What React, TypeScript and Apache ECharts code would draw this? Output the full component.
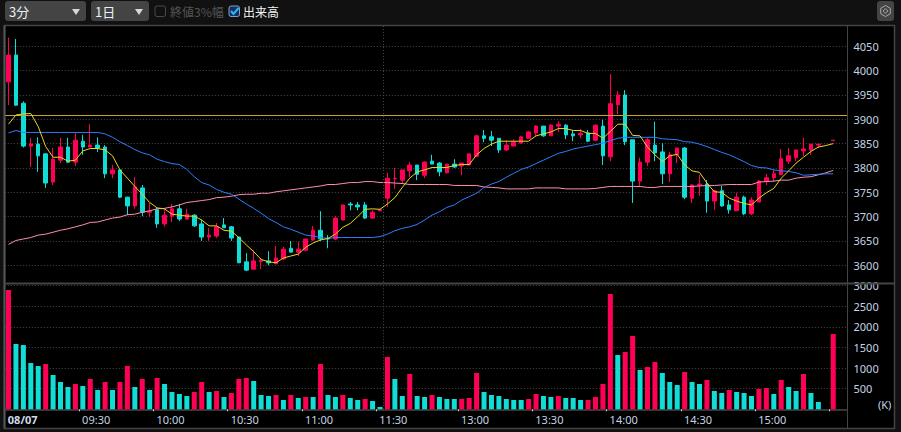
import React, { useEffect, useRef } from "react";
import * as echarts from "echarts";

// [open, close, low, high] per 3-minute bar
const candles: ([number, number, number, number] | null)[] = [
  [3977,4032,3929,4068],[4032,3929,3928,4065],[3933,3845,3842,3937],[3845,3849,3802,3862],[3849,3825,3792,3863],
  [3829,3769,3759,3830],[3771,3818,3765,3841],[3816,3843,3810,3862],[3843,3812,3810,3862],[3812,3857,3804,3872],
  [3855,3843,3827,3868],[3843,3847,3843,3890],[3847,3841,3833,3863],[3843,3788,3779,3847],[3788,3796,3779,3806],
  [3796,3740,3738,3796],[3740,3722,3703,3741],[3722,3761,3716,3781],[3759,3709,3701,3765],[3709,3711,3699,3728],
  [3714,3685,3677,3718],[3685,3703,3679,3716],[3701,3716,3689,3726],[3716,3695,3691,3726],[3695,3705,3693,3716],
  [3703,3681,3679,3705],[3685,3658,3650,3693],[3658,3662,3650,3677],[3660,3679,3656,3687],[3683,3677,3677,3697],
  [3679,3656,3650,3681],[3658,3605,3605,3658],[3607,3590,3588,3625],[3592,3609,3592,3631],[3608,3610,3592,3615],
  [3609,3605,3600,3629],[3603,3615,3603,3640],[3613,3633,3611,3638],[3635,3627,3627,3650],[3627,3633,3619,3648],
  [3631,3654,3629,3654],[3652,3672,3650,3681],[3672,3654,3650,3711],[3656,3654,3635,3662],[3654,3697,3652,3701],
  [3693,3724,3693,3724],[3726,3724,3713,3730],[3724,3720,3713,3730],[3724,3697,3695,3730],[3697,3709,3695,3713],
  [3712,3714,3711,3716],[3738,3779,3720,3790],[3778,3779,3757,3800],[3775,3796,3767,3796],[3794,3806,3781,3812],
  [3806,3787,3775,3806],[3785,3812,3779,3814],[3814,3808,3808,3827],[3810,3792,3783,3812],[3790,3808,3790,3808],
  [3808,3802,3800,3818],[3804,3810,3785,3810],[3806,3829,3806,3829],[3824,3866,3824,3868],[3866,3861,3853,3878],
  [3864,3857,3845,3876],[3861,3837,3831,3861],[3837,3847,3835,3857],[3845,3853,3845,3859],[3851,3864,3851,3866],
  [3861,3874,3861,3876],[3872,3886,3866,3888],[3886,3866,3864,3886],[3866,3888,3866,3890],[3886,3890,3874,3896],
  [3888,3868,3859,3890],[3870,3866,3855,3878],[3868,3871,3861,3880],[3872,3855,3853,3878],[3857,3888,3855,3890],
  [3886,3825,3806,3899],[3823,3932,3814,3993],[3930,3950,3911,3958],[3950,3854,3847,3960],[3858,3773,3728,3858],
  [3773,3812,3761,3821],[3812,3858,3804,3862],[3847,3831,3814,3895],[3833,3788,3767,3851],[3788,3827,3771,3833],
  [3827,3841,3810,3841],[3841,3740,3736,3843],[3738,3765,3728,3767],[3765,3767,3743,3786],[3767,3732,3708,3775],
  [3732,3753,3714,3755],[3753,3722,3720,3763],[3724,3714,3706,3734],[3712,3740,3712,3749],[3740,3706,3703,3743],
  [3706,3734,3703,3740],[3730,3773,3730,3775],[3773,3780,3765,3788],[3780,3788,3771,3796],[3786,3819,3786,3839],
  [3814,3825,3808,3841],[3821,3837,3814,3837],[3835,3839,3825,3862],[3837,3849,3827,3849],[3847,3849,3841,3849],
  null,[3856,3857,3856,3857],
];

const maShort = [
  3890,3909,3911,3912,3885,3844,3822,3822,3814,3816,3835,3840,3840,3837,3825,3796,3779,3762,3746,3729,
  3718,3716,3705,3703,3701,3701,3693,3681,3681,3672,3670,3657,3642,3628,3612,3607,3605,3615,3619,3623,
  3637,3646,3652,3655,3664,3678,3686,3700,3715,3716,3715,3726,3739,3760,3779,3792,3796,3801,3801,3801,
  3805,3807,3807,3827,3840,3849,3855,3855,3855,3855,3855,3866,3870,3874,3881,3881,3877,3877,3871,3871,
  3861,3875,3890,3890,3867,3866,3843,3827,3813,3825,3828,3806,3794,3791,3769,3751,3750,3738,3732,3727,
  3724,3738,3749,3758,3779,3794,3810,3822,3834,3843,3846,3850,
];

const maMid = [
  3872,3877,3873,3873,3873,3873,3873,3873,3873,3873,3873,3873,3873,3870,3863,3854,3846,3838,3831,3827,
  3818,3813,3809,3807,3797,3782,3770,3765,3756,3750,3746,3736,3726,3717,3707,3696,3688,3679,3674,3668,
  3662,3660,3657,3655,3657,3657,3657,3657,3657,3657,3659,3664,3671,3676,3679,3684,3693,3703,3710,3719,
  3724,3734,3741,3748,3760,3767,3772,3781,3789,3797,3802,3809,3816,3823,3830,3834,3839,3842,3845,3848,
  3851,3856,3861,3863,3863,3863,3863,3863,3860,3859,3858,3854,3853,3849,3844,3838,3832,3827,3820,3813,
  3805,3801,3800,3796,3794,3793,3790,3785,3786,3787,3788,3788,
];

const maLong = [
  3643,3651,3654,3657,3662,3664,3668,3672,3675,3679,3683,3688,3689,3693,3697,3699,3704,3705,3709,3712,
  3716,3717,3720,3724,3729,3731,3733,3735,3739,3740,3742,3745,3746,3746,3748,3748,3751,3753,3755,3757,
  3759,3761,3763,3766,3766,3768,3770,3770,3772,3772,3770,3770,3769,3768,3766,3766,3766,3766,3766,3766,
  3764,3764,3764,3764,3761,3760,3759,3757,3757,3757,3757,3759,3759,3759,3759,3757,3757,3757,3757,3758,
  3760,3762,3762,3762,3762,3762,3760,3760,3762,3762,3762,3762,3762,3763,3764,3764,3765,3766,3766,3766,
  3766,3771,3772,3773,3775,3775,3779,3781,3782,3786,3790,3795,
];

const volumes = [
  2895,1585,1560,1124,1051,1100,832,662,541,614,565,735,468,662,468,662,1051,541,735,468,
  760,614,420,371,323,420,662,420,444,298,396,735,760,687,347,323,347,226,347,274,
  298,298,1100,347,298,347,274,226,250,201,56,1269,735,323,857,323,298,347,298,250,
  250,250,274,881,420,347,323,250,226,226,250,371,323,298,323,274,274,226,226,298,
  614,2798,1318,1391,1779,954,1026,1148,881,662,590,905,662,614,711,444,396,468,420,396,
  323,492,517,371,711,541,444,857,396,178,0,1827,
];

// one letter per bar: r = red, t = teal, - = no bar
const volumeColours = [
  "rttttrtttr", "trtrtrrtrt", "rttttrrtrt", "rrrtttrtrt",
  "rtrttrttrt", "trttrttrtt", "trrrtttttt", "rrttrtttrr",
  "rrtrrtrrtt", "trttrttrtt", "trrtrttrtt", "-r",
].join("");

const priceMin = 3550;
const priceMax = 4100;
const priceInterval = 50;
const resistance = 3908;

const dateLabels: Record<string, string> = {
  "-0.5": "08/07", "9.5": "09:30", "19.5": "10:00", "29.5": "10:30", "39.5": "11:00", "49.5": "11:30",
  "60.5": "13:00", "70.5": "13:30", "80.5": "14:00", "90.5": "14:30", "100.5": "15:00",
};
const tickPositions = [9.5, 19.5, 29.5, 39.5, 49.5, 60.5, 70.5, 80.5, 90.5, 100.5, 110.5];
const sessionBreak = 50.5;

const RED = "#ff0055";
const TEAL = "#12dcd6";
const LABEL = "#c4d4e4";
const LINE = "#444444";
const FONT = "'Noto Sans', sans-serif";
const CJK = "'Noto Sans CJK JP', sans-serif";

const PLOT_LEFT = 4.8;
const PLOT_WIDTH = 842.7;
const X_MIN = -0.5;
const X_MAX = 112.92;

const gear = (cx: number, cy: number, r: number) => {
  const pts: number[][] = [];
  for (let i = 0; i < 6; i++) {
    const a = (Math.PI / 3) * i + Math.PI / 6;
    pts.push([cx + r * Math.cos(a), cy + r * Math.sin(a)]);
  }
  return pts;
};

export default function App() {
  const ref = useRef<HTMLDivElement>(null);
  useEffect(() => {
    document.body.style.margin = "0";
    document.body.style.background = "#111";
    const chart = echarts.init(ref.current!, undefined, { renderer: "svg" });

    const candleData = candles
      .map((c, i) => (c ? [i, c[0], c[1], c[2], c[3]] : null))
      .filter(Boolean);
    const volData = volumes
      .map((v, i) => ({
        value: [i, v],
        itemStyle: { color: volumeColours[i] === "r" ? RED : TEAL },
      }))
      .filter((d) => d.value[1] > 0);

    const seq = (arr: number[]) => arr.map((v, i) => [i, v]);
    const lineSeries = (name: string, arr: number[], color: string, z: number) => ({
      name,
      type: "line",
      xAxisIndex: 0,
      yAxisIndex: 0,
      data: seq(arr),
      showSymbol: false,
      silent: true,
      z,
      lineStyle: { color, width: 1 },
    });

    const valueAxisCommon = {
      position: "right",
      axisLine: { show: false },
      axisTick: { show: false },
      axisLabel: {
        color: LABEL,
        fontFamily: FONT,
        fontSize: 11,
        margin: 6,
        padding: [2, 0, 0, 0],
        showMinLabel: false,
        formatter: (v: number) => String(v),
      },
      splitLine: {
        show: true,
        lineStyle: { color: "#4a4a4a", type: [1, 2], width: 1 },
      },
    };

    chart.setOption({
      animation: false,
      backgroundColor: "#111111",
      grid: [
        { left: PLOT_LEFT, width: PLOT_WIDTH, top: 22, height: 267.6 },
        { left: PLOT_LEFT, width: PLOT_WIDTH, top: 285.7, height: 123.6 },
      ],
      xAxis: [
        {
          type: "value",
          gridIndex: 0,
          min: X_MIN,
          max: X_MAX,
          axisLine: { show: false },
          axisTick: { show: false },
          axisLabel: { show: false },
          splitLine: { show: false },
        },
        {
          type: "value",
          gridIndex: 1,
          min: X_MIN,
          max: X_MAX,
          axisLine: { show: true, onZero: false, lineStyle: { color: LINE, width: 1.5 } },
          axisTick: {
            show: true,
            customValues: tickPositions,
            length: 2,
            lineStyle: { color: "#d0d0d0", width: 1 },
          },
          axisLabel: {
            show: true,
            customValues: Object.keys(dateLabels).map(Number),
            color: LABEL,
            fontFamily: FONT,
            fontSize: 11,
            margin: 5,
            align: "left",
            padding: [0, 0, 0, 3],
            formatter: (v: number) => {
              const t = dateLabels[String(v)] ?? "";
              return v < 0 ? `{d|${t}}` : t;
            },
            rich: {
              d: { fontWeight: "bold", fontSize: 11, color: "#d0dcea", fontFamily: FONT },
            },
          },
          splitLine: { show: false },
        },
      ],
      yAxis: [
        {
          ...valueAxisCommon,
          type: "value",
          gridIndex: 0,
          min: priceMin,
          max: priceMax,
          interval: priceInterval,
          axisLabel: { ...valueAxisCommon.axisLabel, showMaxLabel: false },
          splitLine: { ...valueAxisCommon.splitLine, showMinLine: false, showMaxLine: false },
        },
        {
          ...valueAxisCommon,
          type: "value",
          gridIndex: 1,
          min: 0,
          max: 3000,
          interval: 500,
        },
      ],
      series: [
        {
          name: "price",
          type: "candlestick",
          xAxisIndex: 0,
          yAxisIndex: 0,
          data: candleData,
          encode: { x: 0, y: [1, 2, 3, 4] },
          barWidth: 4,
          silent: true,
          z: 2,
          itemStyle: {
            color: RED,
            color0: TEAL,
            borderColor: RED,
            borderColor0: TEAL,
            borderWidth: 1,
          },
          markLine: {
            silent: true,
            symbol: "none",
            label: { show: false },
            data: [
              [
                { coord: [X_MIN, resistance], lineStyle: { color: "#c9a227", width: 1, type: "solid" } },
                { coord: [X_MAX, resistance] },
              ],
              [
                { coord: [sessionBreak, 4092], lineStyle: { color: "#4a4a4a", width: 1, type: [1, 2] } },
                { coord: [sessionBreak, 3564] },
              ],
            ],
          },
        },
        lineSeries("MA long", maLong, "#ff8fab", 3),
        lineSeries("MA mid", maMid, "#2f7dff", 4),
        lineSeries("MA short", maShort, "#e8d820", 5),
        {
          name: "volume",
          type: "bar",
          xAxisIndex: 1,
          yAxisIndex: 1,
          data: volData,
          barWidth: 5,
          silent: true,
          markLine: {
            silent: true,
            symbol: "none",
            label: { show: false },
            lineStyle: { color: "#4a4a4a", width: 1, type: [1, 2] },
            data: [{ xAxis: sessionBreak }],
          },
        },
      ],
      graphic: [
        // plot panel
        { type: "rect", z: -10, silent: true, shape: { x: 4.5, y: 25.5, width: 890, height: 403 }, style: { fill: "#000", stroke: LINE, lineWidth: 1.5 } },
        { type: "line", z: 10, silent: true, shape: { x1: 4.5, y1: 25.5, x2: 4.5, y2: 428.5 }, style: { stroke: "#555", lineWidth: 2 } },
        { type: "line", z: 10, silent: true, shape: { x1: 4.5, y1: 283.5, x2: 894.5, y2: 283.5 }, style: { stroke: LINE, lineWidth: 2 } },
        { type: "line", z: 10, silent: true, shape: { x1: 847.5, y1: 25.5, x2: 847.5, y2: 428.5 }, style: { stroke: LINE, lineWidth: 1 } },
        // period selector
        { type: "rect", silent: true, shape: { x: 5, y: 1, width: 81, height: 20, r: 3 }, style: { fill: "#444" } },
        { type: "text", silent: true, x: 9, y: 11, style: { text: "3分", fill: "#e8f0f8", font: `13px ${CJK}`, verticalAlign: "middle" } },
        { type: "polygon", silent: true, shape: { points: [[72, 9], [80, 9], [76, 15]] }, style: { fill: "#d8d8d8" } },
        // range selector
        { type: "rect", silent: true, shape: { x: 91, y: 1, width: 58, height: 20, r: 3 }, style: { fill: "#444" } },
        { type: "text", silent: true, x: 95, y: 11, style: { text: "1日", fill: "#e8f0f8", font: `13px ${CJK}`, verticalAlign: "middle" } },
        { type: "polygon", silent: true, shape: { points: [[135, 9], [143, 9], [139, 15]] }, style: { fill: "#d8d8d8" } },
        // checkboxes
        { type: "rect", silent: true, shape: { x: 155, y: 6, width: 10.5, height: 10.5, r: 2 }, style: { fill: "none", stroke: "#4a4a4a", lineWidth: 1 } },
        { type: "text", silent: true, x: 170, y: 11.5, style: { text: "終値3%幅", fill: "#555", font: `12px ${CJK}`, verticalAlign: "middle" } },
        { type: "rect", silent: true, shape: { x: 229, y: 6, width: 10.5, height: 10.5, r: 2 }, style: { fill: "#14305c", stroke: "#8aa0c0", lineWidth: 1 } },
        { type: "polyline", silent: true, shape: { points: [[231, 11], [233.5, 14], [238.5, 8]] }, style: { fill: "none", stroke: "#29b6ff", lineWidth: 2 } },
        { type: "text", silent: true, x: 243, y: 11.5, style: { text: "出来高", fill: "#f4f4f4", font: `12px ${CJK}`, verticalAlign: "middle" } },
        // settings button
        { type: "rect", silent: true, shape: { x: 877, y: 1, width: 17, height: 20, r: 3 }, style: { fill: "#444" } },
        { type: "polygon", silent: true, shape: { points: gear(885.5, 11, 5.5) }, style: { fill: "none", stroke: "#aaa", lineWidth: 1 } },
        { type: "circle", silent: true, shape: { cx: 885.5, cy: 11, r: 2 }, style: { fill: "none", stroke: "#aaa", lineWidth: 1 } },
        // unit
        { type: "text", silent: true, x: 878, y: 404.5, style: { text: "(K)", fill: LABEL, font: `11px ${FONT}`, verticalAlign: "middle" } },
      ],
    });
    return () => chart.dispose();
  }, []);
  return <div ref={ref} style={{ width: 901, height: 432 }} />;
}
